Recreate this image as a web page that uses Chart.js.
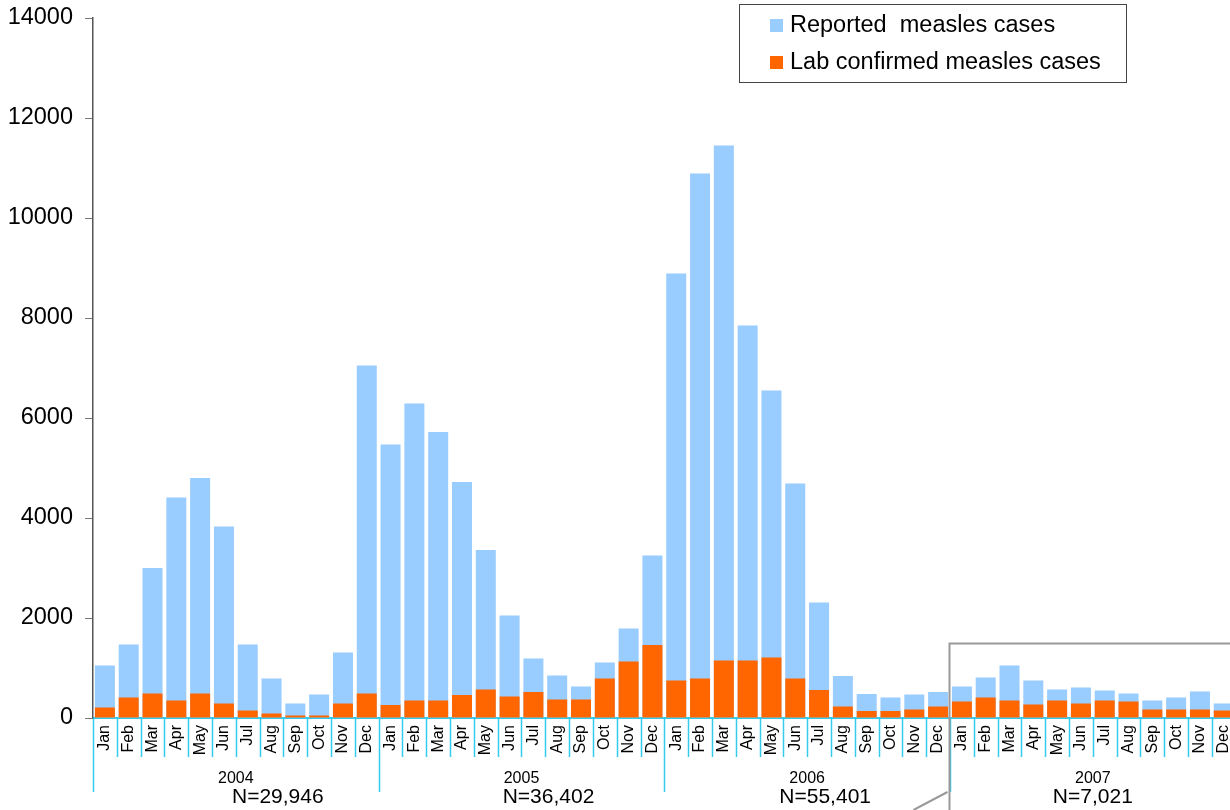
<!DOCTYPE html>
<html>
<head>
<meta charset="utf-8">
<script src="https://cdn.jsdelivr.net/npm/chart.js@4"></script>
<style>
  html, body { margin: 0; padding: 0; background: #fff; overflow: hidden; }
  #wrap { width: 1250px; height: 810px; }
</style>
</head>
<body>
<div id="wrap"><canvas id="measlesChart"></canvas></div>
<script>
// --- data ---
const months = ["Jan","Feb","Mar","Apr","May","Jun","Jul","Aug","Sep","Oct","Nov","Dec"];
const years = ["2004", "2005", "2006", "2007"];
const yearTotals = ["N=29,946", "N=36,402", "N=55,401", "N=7,021"];

const reported = [
    1050, 1470, 3000, 4410, 4800, 3830, 1470, 790, 290, 470, 1310, 7050,
    5470, 6290, 5720, 4720, 3360, 2050, 1190, 850, 630, 1110, 1790, 3250,
    8890, 10890, 11450, 7850, 6550, 4690, 2310, 840, 480, 410, 470, 520,
    630, 810, 1050, 750, 570, 610, 550, 490, 350, 410, 530, 290
];
const labConfirmed = [
    210, 410, 490, 350, 490, 290, 150, 90, 50, 50, 290, 490,
    260, 350, 350, 460, 570, 430, 520, 370, 370, 790, 1130, 1460,
    750, 790, 1150, 1150, 1210, 790, 560, 230, 140, 140, 170, 230,
    330, 410, 350, 270, 350, 290, 350, 330, 170, 170, 170, 150
];
const yTicks = [0, 2000, 4000, 6000, 8000, 10000, 12000, 14000];

const categories = [];
years.forEach(y => months.forEach(m => categories.push(m + " " + y)));

const BLUE = "#99CCFF";
const ORANGE = "#FF6600";
const CYAN = "#33CCEE";
const FONT = "'Liberation Sans', Arial, sans-serif";

// separators, year labels, inset frame and legend
const decorations = {
    id: "decorations",
    afterDraw(chart) {
        const ctx = chart.ctx;
        const xs = chart.scales.x;
        const ys = chart.scales.y;
        const bottom = chart.chartArea.bottom;
        const n = categories.length;
        const step = (xs.right - xs.left) / n;

        ctx.save();
        // month separators (short) and year separators (long)
        ctx.strokeStyle = CYAN;
        ctx.lineWidth = 1.5;
        for (let i = 0; i <= n; i++) {
            const x = Math.round(xs.left + i * step) + 0.5;
            const len = (i % 12 === 0) ? 74 : 39;
            ctx.beginPath();
            ctx.moveTo(x, bottom);
            ctx.lineTo(x, bottom + len);
            ctx.stroke();
        }

        // year captions
        const nShift = [42, 27, 18, 0];
        ctx.fillStyle = "#000";
        ctx.textAlign = "center";
        ctx.textBaseline = "middle";
        years.forEach((y, i) => {
            const cx = xs.left + (i * 12 + 6) * step;
            ctx.font = "16px " + FONT;
            ctx.fillText(y, cx, bottom + 61);
            ctx.font = "21px " + FONT;
            ctx.fillText(yearTotals[i], cx + nShift[i], bottom + 79);
        });

        // inset frame round 2007
        const bx = Math.round(xs.left + 36 * step) - 0.5;
        const by = Math.round(ys.getPixelForValue(1500)) + 0.5;
        ctx.strokeStyle = "#999";
        ctx.lineWidth = 2;
        ctx.strokeRect(bx, by, 400, 400);
        ctx.beginPath();
        ctx.moveTo(bx - 36, chart.height);
        ctx.lineTo(bx - 2, chart.height - 18);
        ctx.stroke();

        // legend box
        const lx = 739.5, ly = 4.5, lw = 387, lh = 78;
        ctx.fillStyle = "#fff";
        ctx.fillRect(lx, ly, lw, lh);
        ctx.strokeStyle = "#444";
        ctx.lineWidth = 1;
        ctx.strokeRect(lx, ly, lw, lh);
        const items = [chart.data.datasets[1], chart.data.datasets[0]];
        ctx.font = "23.5px " + FONT;
        ctx.textAlign = "left";
        items.forEach((ds, i) => {
            const cy = 25 + i * 37;
            ctx.fillStyle = ds.backgroundColor;
            ctx.fillRect(770, cy - 6, 13, 13);
            ctx.fillStyle = "#000";
            ctx.fillText(ds.label, 790, cy + 1);
        });
        ctx.restore();
    }
};

new Chart(document.getElementById("measlesChart"), {
    type: "bar",
    data: {
        labels: categories,
        datasets: [
            {
                label: "Lab confirmed measles cases",
                data: labConfirmed,
                backgroundColor: ORANGE,
                grouped: false,
                order: 0,
                categoryPercentage: 1,
                barPercentage: 0.84
            },
            {
                label: "Reported  measles cases",
                data: reported,
                backgroundColor: BLUE,
                grouped: false,
                order: 1,
                categoryPercentage: 1,
                barPercentage: 0.84
            }
        ]
    },
    options: {
        responsive: true,
        maintainAspectRatio: false,
        animation: false,
        layout: { padding: { top: 18, right: 4, left: 0, bottom: 0 } },
        plugins: {
            legend: { display: false },
            tooltip: { enabled: false }
        },
        scales: {
            x: {
                grid: { display: true, drawOnChartArea: false, drawTicks: false },
                border: { display: true, color: CYAN, width: 2 },
                afterFit: scale => { scale.height = 92; },
                ticks: {
                    autoSkip: false,
                    minRotation: 90,
                    maxRotation: 90,
                    padding: 7,
                    color: "#000",
                    font: { family: FONT, size: 16 },
                    callback: (v, i) => months[i % 12]
                }
            },
            y: {
                min: 0,
                max: 14000,
                afterFit: scale => { scale.width = 93; scale.paddingTop = 0; scale.paddingBottom = 0; },
                afterBuildTicks: scale => { scale.ticks = yTicks.map(v => ({ value: v })); },
                grid: { drawOnChartArea: false, tickLength: 8, color: "#777" },
                border: { color: "#555", width: 1.5 },
                ticks: {
                    padding: 12,
                    color: "#000",
                    font: { family: FONT, size: 23.5 },
                    callback: v => String(v)
                }
            }
        }
    },
    plugins: [decorations]
});
</script>
</body>
</html>
